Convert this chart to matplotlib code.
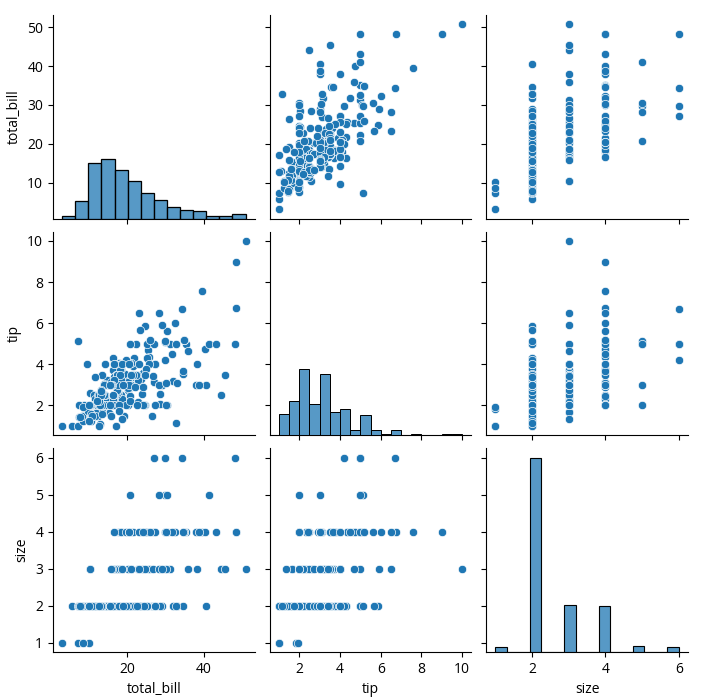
import numpy as np
import pandas as pd
import seaborn as sns
import matplotlib
matplotlib.use("Agg")
import matplotlib.pyplot as plt
from matplotlib.ticker import MultipleLocator

# tips data: total_bill, tip, size
total_bill = [
    16.99, 10.34, 21.01, 23.68, 24.59, 25.29, 8.77, 26.88, 15.04, 14.78,
    10.27, 35.26, 15.42, 18.43, 14.83, 21.58, 10.33, 16.29, 16.97, 20.65,
    17.92, 20.29, 15.77, 39.42, 19.82, 17.81, 13.37, 12.69, 21.70, 19.65,
    9.55, 18.35, 15.06, 20.69, 17.78, 24.06, 16.31, 16.93, 18.69, 31.27,
    16.04, 17.46, 13.94, 9.68, 30.40, 18.29, 22.23, 32.40, 28.55, 18.04,
    12.54, 10.29, 34.81, 9.94, 25.56, 19.49, 38.01, 26.41, 11.24, 48.27,
    20.29, 13.81, 11.02, 18.29, 17.59, 20.08, 16.45, 3.07, 20.23, 15.01,
    12.02, 17.07, 26.86, 25.28, 14.73, 10.51, 17.92, 27.20, 22.76, 17.29,
    19.44, 16.66, 10.07, 32.68, 15.98, 34.83, 13.03, 18.28, 24.71, 21.16,
    28.97, 22.49, 5.75, 16.32, 22.75, 40.17, 27.28, 12.03, 21.01, 12.46,
    11.35, 15.38, 44.30, 22.42, 20.92, 15.36, 20.49, 25.21, 18.24, 14.31,
    14.00, 7.25, 38.07, 23.95, 25.71, 17.31, 29.93, 10.65, 12.43, 24.08,
    11.69, 13.42, 14.26, 15.95, 12.48, 29.80, 8.52, 14.52, 11.38, 22.82,
    19.08, 20.27, 11.17, 12.26, 18.26, 8.51, 10.33, 14.15, 16.00, 13.16,
    17.47, 34.30, 41.19, 27.05, 16.43, 8.35, 18.64, 11.87, 9.78, 7.51,
    14.07, 13.13, 17.26, 24.55, 19.77, 29.85, 48.17, 25.00, 13.39, 16.49,
    21.50, 12.66, 16.21, 13.81, 17.51, 24.52, 20.76, 31.71, 10.59, 10.63,
    50.81, 15.81, 7.25, 31.85, 16.82, 32.90, 17.89, 14.48, 9.60, 34.63,
    34.65, 23.33, 45.35, 23.17, 40.55, 20.69, 20.90, 30.46, 18.15, 23.10,
    15.69, 19.81, 28.44, 15.48, 16.58, 7.56, 10.34, 43.11, 13.00, 13.51,
    18.71, 12.74, 13.00, 16.40, 20.53, 16.47, 26.59, 38.73, 24.27, 12.76,
    30.06, 25.89, 48.33, 13.27, 28.17, 12.90, 28.15, 11.59, 7.74, 30.14,
    12.16, 13.42, 8.58, 15.98, 13.42, 16.27, 10.09, 20.45, 13.28, 22.12,
    24.01, 15.69, 11.61, 10.77, 15.53, 10.07, 12.60, 32.83, 35.83, 29.03,
    27.18, 22.67, 17.82, 18.78,
]
tip = [
    1.01, 1.66, 3.50, 3.31, 3.61, 4.71, 2.00, 3.12, 1.96, 3.23,
    1.71, 5.00, 1.57, 3.00, 3.02, 3.92, 1.67, 3.71, 3.50, 3.35,
    4.08, 2.75, 2.23, 7.58, 3.18, 2.34, 2.00, 2.00, 4.30, 3.00,
    1.45, 2.50, 3.00, 2.45, 3.27, 3.60, 2.00, 3.07, 2.31, 5.00,
    2.24, 2.54, 3.06, 1.32, 5.60, 3.00, 5.00, 6.00, 2.05, 3.00,
    2.50, 2.60, 5.20, 1.56, 4.34, 3.51, 3.00, 1.50, 1.76, 6.73,
    3.21, 2.00, 1.98, 3.76, 2.64, 3.15, 2.47, 1.00, 2.01, 2.09,
    1.97, 3.00, 3.14, 5.00, 2.20, 1.25, 3.08, 4.00, 3.00, 2.71,
    3.00, 3.40, 1.83, 5.00, 2.03, 5.17, 2.00, 4.00, 5.85, 3.00,
    3.00, 3.50, 1.00, 4.30, 3.25, 4.73, 4.00, 1.50, 3.00, 1.50,
    2.50, 3.00, 2.50, 3.48, 4.08, 1.64, 4.06, 4.29, 3.76, 4.00,
    3.00, 1.00, 4.00, 2.55, 4.00, 3.50, 5.07, 1.50, 1.80, 2.92,
    2.31, 1.68, 2.50, 2.00, 2.52, 4.20, 1.48, 2.00, 2.00, 2.18,
    1.50, 2.83, 1.50, 2.00, 3.25, 1.25, 2.00, 2.00, 2.00, 2.75,
    3.50, 6.70, 5.00, 5.00, 2.30, 1.50, 1.36, 1.63, 1.73, 2.00,
    2.50, 2.00, 2.74, 2.00, 2.00, 5.14, 5.00, 3.75, 2.61, 2.00,
    3.50, 2.50, 2.00, 2.00, 3.00, 3.48, 2.24, 4.50, 1.61, 2.00,
    10.00, 3.16, 5.15, 3.18, 4.00, 3.11, 2.00, 2.00, 4.00, 3.55,
    3.68, 5.65, 3.50, 6.50, 3.00, 5.00, 3.50, 2.00, 3.50, 4.00,
    1.50, 4.19, 2.56, 2.02, 4.00, 1.44, 2.00, 5.00, 2.00, 2.00,
    4.00, 2.01, 2.00, 2.50, 4.00, 3.23, 3.41, 3.00, 2.03, 2.23,
    2.00, 5.16, 9.00, 2.50, 6.50, 1.10, 3.00, 1.50, 1.44, 3.09,
    2.20, 3.48, 1.92, 3.00, 1.58, 2.50, 2.00, 3.00, 2.72, 2.88,
    2.00, 3.00, 3.39, 1.47, 3.00, 1.25, 1.00, 1.17, 4.67, 5.92,
    2.00, 2.00, 1.75, 3.00,
]
size = [
    2, 3, 3, 2, 4, 4, 2, 4, 2, 2,
    2, 4, 2, 4, 2, 2, 3, 3, 3, 3,
    2, 2, 2, 4, 2, 4, 2, 2, 2, 2,
    2, 4, 2, 4, 2, 3, 3, 3, 3, 3,
    3, 2, 2, 2, 4, 2, 2, 4, 3, 2,
    2, 2, 4, 2, 4, 2, 4, 2, 2, 4,
    2, 2, 2, 4, 3, 3, 2, 1, 2, 2,
    2, 3, 2, 2, 2, 2, 2, 4, 2, 2,
    2, 2, 1, 2, 2, 4, 2, 2, 2, 2,
    2, 2, 2, 2, 2, 4, 2, 2, 2, 2,
    2, 2, 3, 2, 2, 2, 2, 2, 2, 2,
    2, 1, 3, 2, 3, 2, 4, 2, 2, 4,
    2, 2, 2, 2, 2, 6, 2, 2, 2, 3,
    2, 2, 2, 2, 2, 2, 2, 2, 2, 2,
    2, 6, 5, 6, 2, 2, 3, 2, 2, 2,
    2, 2, 3, 4, 4, 5, 6, 4, 2, 4,
    4, 2, 3, 2, 2, 3, 2, 4, 2, 2,
    3, 2, 2, 2, 2, 2, 2, 2, 2, 2,
    4, 2, 3, 4, 2, 5, 3, 5, 3, 3,
    2, 2, 2, 2, 2, 2, 2, 4, 2, 2,
    3, 2, 2, 2, 4, 3, 3, 4, 2, 2,
    3, 4, 4, 2, 3, 2, 5, 2, 2, 4,
    2, 2, 1, 3, 2, 2, 2, 4, 2, 2,
    4, 3, 2, 2, 2, 2, 2, 2, 3, 3,
    2, 2, 2, 2,
]

tips = pd.DataFrame({"total_bill": total_bill, "tip": tip, "size": size})

plt.rcParams["font.family"] = ["Open Sans", "DejaVu Sans"]

g = sns.pairplot(tips)

# fit to the reference canvas
g.figure.set_size_inches(7.24, 6.98)
g.figure.subplots_adjust(left=53 / 724, right=688 / 724,
                         top=1 - 15 / 698, bottom=1 - 652 / 698,
                         wspace=0.074, hspace=0.064)

# tip axis: ticks every 2 like the reference
g.axes[2, 1].xaxis.set_major_locator(MultipleLocator(2))
g.axes[1, 0].yaxis.set_major_locator(MultipleLocator(2))

g.figure.savefig("out.png", dpi=100)
